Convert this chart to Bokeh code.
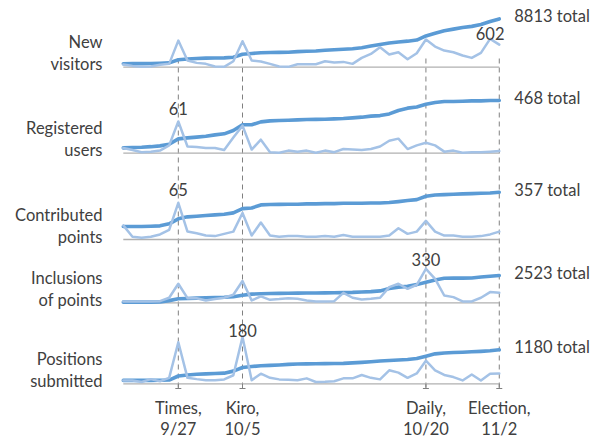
from bokeh.plotting import figure
from bokeh.models import Range1d, Label
from bokeh.embed import file_html
from bokeh.resources import INLINE

# ---------------- data ----------------
idx = list(range(42))

visitors_daily = [57, 28, 7, 14, 50, 71, 566, 142, 92, 71, 14, 7, 127, 552, 142, 120, 71, 14, 7, 64, 64,
                  64, 127, 99, 113, 71, 198, 283, 425, 269, 319, 170, 297, 590, 439, 354, 319, 248, 198,
                  304, 602, 481]
visitors_total = [620, 648, 655, 669, 719, 790, 1356, 1498, 1590, 1661, 1675, 1700, 1809, 2361, 2503, 2623,
                  2694, 2708, 2740, 2850, 2900, 2950, 3080, 3180, 3280, 3380, 3560, 3850, 4150, 4400, 4600,
                  4750, 4950, 5700, 6200, 6650, 6950, 7250, 7450, 7780, 8330, 8813]

users_daily = [10, 6, 2, 3, 5, 15, 61, 13, 12, 10, 10, 6, 30, 53, 7, 26, 2, 1, 5, 3, 5, 1, 5, 2, 8, 7, 6,
               8, 13, 24, 28, 8, 15, 20, 15, 3, 5, 1, 2, 2, 3, 4]
users_total = [47, 50, 53, 58, 65, 80, 127, 136, 143, 151, 163, 172, 201, 252, 252, 278, 287, 290, 293,
               296, 299, 300, 302, 305, 308, 314, 320, 329, 334, 349, 379, 400, 411, 435, 450, 459, 459,
               462, 465, 465, 468, 468]

points_daily = [25, 5, 3, 5, 9, 17, 65, 14, 11, 7, 6, 10, 14, 47, 7, 30, 7, 5, 6, 6, 5, 5, 6, 5, 8, 5, 5,
                5, 5, 7, 20, 10, 14, 33, 14, 7, 7, 5, 5, 6, 9, 14]
points_total = [98, 98, 98, 100, 103, 118, 156, 171, 176, 181, 186, 191, 201, 233, 238, 261, 264, 265,
                266, 266, 269, 269, 271, 271, 274, 274, 274, 276, 276, 279, 286, 294, 301, 326, 336, 339,
                341, 344, 346, 349, 351, 357]

inclusions_daily = [13, 13, 13, 13, 16, 49, 185, 45, 45, 23, 36, 49, 78, 211, 23, 62, 29, 36, 45, 39, 23,
                    13, 13, 16, 97, 49, 32, 39, 49, 152, 185, 136, 175, 330, 233, 71, 55, 13, 13, 49, 104, 97]
inclusions_total = [60, 60, 62, 65, 70, 200, 370, 400, 430, 460, 490, 510, 560, 700, 800, 840, 860, 870,
                    880, 890, 900, 910, 920, 930, 940, 960, 1000, 1030, 1100, 1320, 1450, 1520, 1680, 1900,
                    2110, 2270, 2280, 2285, 2290, 2380, 2460, 2523]

positions_daily = [13, 13, 7, 18, 10, 23, 160, 23, 18, 14, 14, 17, 33, 180, 14, 39, 23, 17, 16, 14, 21, 7,
                   8, 10, 21, 21, 34, 23, 17, 52, 43, 23, 40, 89, 52, 34, 26, 13, 36, 13, 39, 40]
positions_total = [118, 118, 118, 120, 122, 130, 271, 307, 330, 345, 355, 370, 440, 566, 600, 625, 640,
                   655, 675, 685, 690, 695, 700, 705, 710, 725, 745, 765, 790, 810, 825, 845, 880, 960,
                   1040, 1070, 1085, 1095, 1110, 1125, 1145, 1180]

row_labels = [["New", "visitors"], ["Registered", "users"], ["Contributed", "points"],
              ["Inclusions", "of points"], ["Positions", "submitted"]]
daily_series = [visitors_daily, users_daily, points_daily, inclusions_daily, positions_daily]
total_series = [visitors_total, users_total, points_total, inclusions_total, positions_total]

event_names = ["Times,", "Kiro,", "Daily,", "Election,"]
event_dates = ["9/27", "10/5", "10/20", "11/2"]
event_idx = [6, 13, 33, 41]

# ---------------- layout (page pixels) ----------------
W, H = 602, 437
X0, DX = 122.8, 9.17
baselines = [66.7, 152.7, 239.0, 302.3, 383.3]
cum_px = [48.3, 52.7, 47.3, 27.3, 34.0]
day_px = [28.3, 31.7, 36.7, 34.0, 46.7]
peak_off = [5.0, 12.7, 13.0, 9.3, 6.7]

DARK = "#5b9bd5"
LIGHT = "#a4c2e6"
TXT = "#404040"
FONT = "Lato"
FS = "16.5px"

p = figure(width=W, height=H, output_backend="svg", toolbar_location=None,
           x_range=Range1d((0 - X0) / DX, (W - X0) / DX),
           y_range=Range1d(H, 0),
           x_axis_location=None, y_axis_location=None, min_border=0)
p.outline_line_color = None
p.grid.visible = False
p.extra_x_ranges = {"px": Range1d(0, W)}


def rng(b, vmax, hpx):
    s = vmax / hpx
    return Range1d((b - H) * s, b * s)


ranges = {}
for r in range(5):
    ranges[f"c{r}"] = rng(baselines[r], max(total_series[r]), cum_px[r])
    ranges[f"d{r}"] = rng(baselines[r], max(daily_series[r]), day_px[r])
p.extra_y_ranges = ranges

# dashed event lines
p.segment(x0=event_idx, y0=[58] * 4, x1=event_idx, y1=[388] * 4,
          line_color="#808080", line_width=1, line_dash="5 4")

for r in range(5):
    cr, dr = f"c{r}", f"d{r}"
    p.segment(x0=[idx[0]], y0=[0], x1=[idx[-1]], y1=[0], y_range_name=cr,
              line_color="#b0b0b0", line_width=1.3)
    p.line(idx, total_series[r], y_range_name=cr, line_color=DARK, line_width=3.6,
           line_join="round", line_cap="round")
    p.line(idx, daily_series[r], y_range_name=dr, line_color=LIGHT, line_width=2.5,
           line_join="round", line_cap="round")

    b = baselines[r]
    for k, t in enumerate(row_labels[r]):
        p.add_layout(Label(x=102, y=b - 25 + 22 * k, x_range_name="px", text=t,
                           text_align="right", text_baseline="middle",
                           text_font=FONT, text_font_size=FS, text_color=TXT))
    tot = total_series[r]
    p.add_layout(Label(x=idx[-1], y=tot[-1], y_range_name=cr, x_offset=15, y_offset=2.5,
                       text=f"{tot[-1]} total", text_align="left", text_baseline="middle",
                       text_font=FONT, text_font_size=FS, text_color=TXT))
    d = daily_series[r]
    k = d.index(max(d))
    p.add_layout(Label(x=idx[k], y=d[k], y_range_name=dr, y_offset=peak_off[r],
                       text=str(d[k]), text_align="center", text_baseline="middle",
                       text_font=FONT, text_font_size=FS, text_color=TXT))

# bottom ticks
p.segment(x0=event_idx, y0=[baselines[-1]] * 4, x1=event_idx, y1=[388] * 4,
          line_color="#808080", line_width=1)
p.scatter(event_idx, [388] * 4, marker="dash", size=6, line_color="#808080", line_width=1)

for e in range(4):
    p.add_layout(Label(x=event_idx[e], y=407, text=event_names[e], text_align="center",
                       text_baseline="middle", text_font=FONT, text_font_size=FS, text_color=TXT))
    p.add_layout(Label(x=event_idx[e], y=428, text=event_dates[e], text_align="center",
                       text_baseline="middle", text_font=FONT, text_font_size=FS, text_color=TXT))

open("out.html", "w").write(file_html(p, INLINE))
